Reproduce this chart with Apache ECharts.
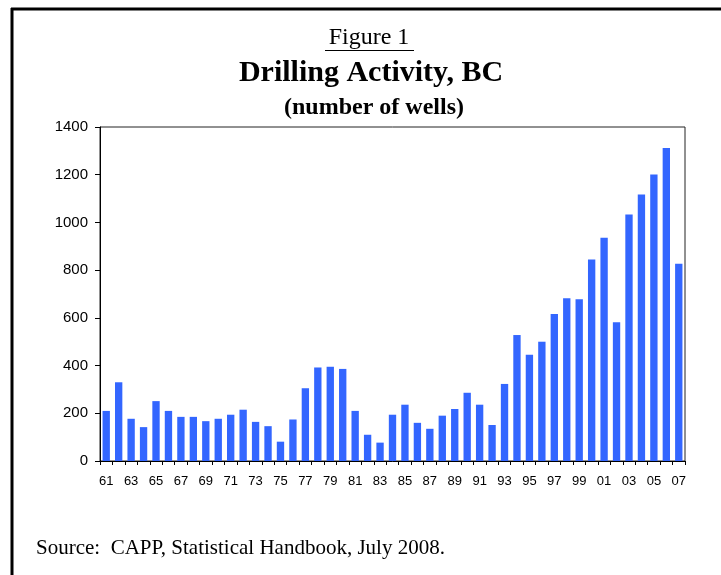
<!DOCTYPE html>
<html>
<head>
<meta charset="utf-8">
<script src="https://cdn.jsdelivr.net/npm/echarts@6/dist/echarts.min.js"></script>
<style>
  html, body { margin: 0; padding: 0; background: #fff; }
  #chart { width: 721px; height: 575px; }
</style>
</head>
<body>
<div id="chart"></div>
<script>
// Drilling activity in British Columbia, 1961-2007 (number of wells)
const years = ['61','62','63','64','65','66','67','68','69','70',
               '71','72','73','74','75','76','77','78','79','80',
               '81','82','83','84','85','86','87','88','89','90',
               '91','92','93','94','95','96','97','98','99','00',
               '01','02','03','04','05','06','07'];
const wells = [210, 330, 177, 142, 251, 210, 185, 185, 167, 177,
               194, 215, 164, 146, 81, 174, 305, 392, 395, 386,
               210, 110, 77, 194, 236, 160, 135, 190, 218, 286,
               236, 151, 323, 528, 445, 500, 616, 682, 678, 845,
               936, 582, 1033, 1117, 1201, 1312, 827];
const yTicks = [0, 200, 400, 600, 800, 1000, 1200, 1400];

const serif = '"Liberation Serif", "DejaVu Serif", serif';
const sans = '"Liberation Sans", Arial, sans-serif';

const chart = echarts.init(document.getElementById('chart'), null, { renderer: 'canvas' });

chart.setOption({
  animation: false,
  backgroundColor: '#fff',
  grid: {
    left: 100, right: 36, top: 127, bottom: 114,
    show: true, borderColor: '#222', borderWidth: 1, backgroundColor: 'transparent'
  },
  xAxis: {
    type: 'category',
    data: years,
    boundaryGap: true,
    axisLine: { lineStyle: { color: '#000', width: 1 } },
    axisTick: { show: true, interval: 0, length: 4, lineStyle: { color: '#000' } },
    axisLabel: { interval: 1, color: '#000', fontFamily: sans, fontSize: 13, margin: 14 }
  },
  yAxis: {
    type: 'value',
    min: yTicks[0],
    max: yTicks[yTicks.length - 1],
    interval: yTicks[1] - yTicks[0],
    axisLine: { show: true, lineStyle: { color: '#000', width: 1 } },
    axisTick: { show: true, length: 5, lineStyle: { color: '#000' } },
    splitLine: { show: false },
    axisLabel: {
      color: '#000', fontFamily: sans, fontSize: 15, margin: 12,
      formatter: (v) => String(v)
    }
  },
  series: [{
    type: 'bar',
    data: wells,
    barCategoryGap: '41%',
    itemStyle: { color: '#3366ff' }
  }],
  graphic: [
    // outer frame: top and left rules
    { type: 'line', shape: { x1: 11, y1: 9, x2: 721, y2: 9 }, style: { stroke: '#000', lineWidth: 3 } },
    { type: 'line', shape: { x1: 12, y1: 8, x2: 12, y2: 575 }, style: { stroke: '#000', lineWidth: 3 } },
    // headings
    { type: 'text', x: 369, y: 38, style: { text: 'Figure 1', font: '24px ' + serif, fill: '#000', textAlign: 'center', textVerticalAlign: 'middle' } },
    { type: 'line', shape: { x1: 325, y1: 50.5, x2: 414, y2: 50.5 }, style: { stroke: '#000', lineWidth: 1 } },
    { type: 'text', x: 371, y: 73, style: { text: 'Drilling Activity, BC', font: 'bold 30px ' + serif, fill: '#000', textAlign: 'center', textVerticalAlign: 'middle' } },
    { type: 'text', x: 374, y: 108, style: { text: '(number of wells)', font: 'bold 24px ' + serif, fill: '#000', textAlign: 'center', textVerticalAlign: 'middle' } },
    { type: 'text', x: 36, y: 548, style: { text: 'Source:  CAPP, Statistical Handbook, July 2008.', font: '21px ' + serif, fill: '#000', textAlign: 'left', textVerticalAlign: 'middle' } }
  ]
});
</script>
</body>
</html>
